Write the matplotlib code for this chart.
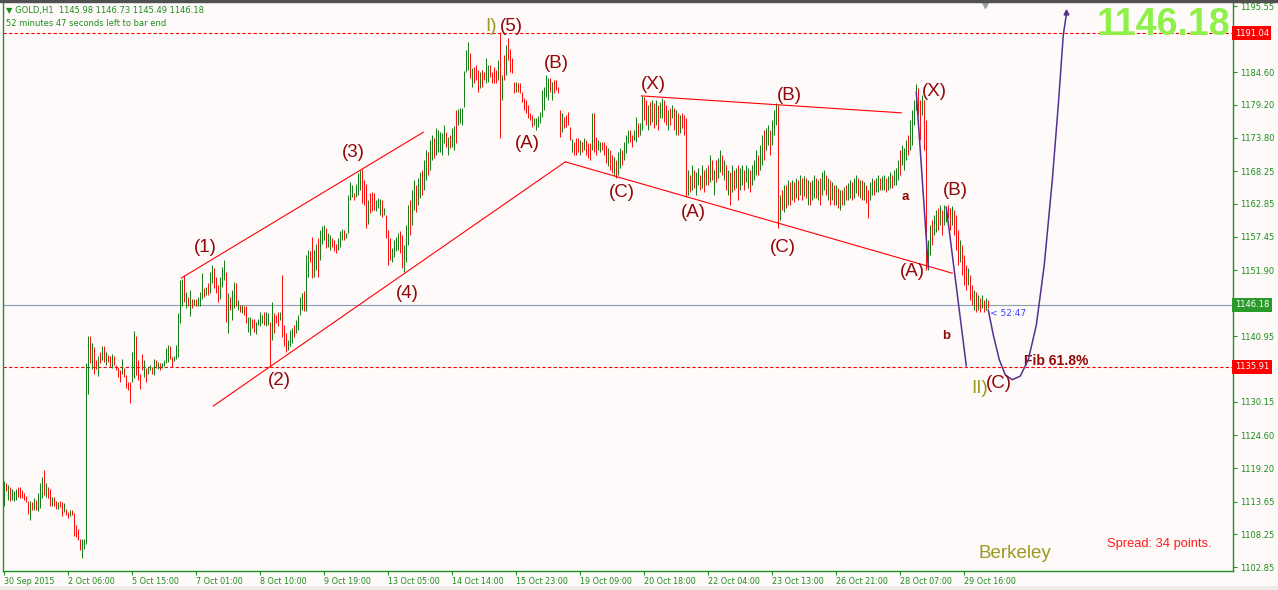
"""
GOLD H1 - Elliott wave count drawn over an MT4 style bar chart.
"""

import matplotlib
matplotlib.use("Agg")
import matplotlib.pyplot as plt
from matplotlib import transforms

# Hourly bars (bar index 0 = 30 Sep 2015).
HIGHS = [
    1117.0, 1116.7, 1116.4, 1116.1, 1115.7, 1115.4, 1115.8, 1116.0, 1116.1, 1115.6,
    1115.0, 1114.6, 1113.8, 1113.7, 1113.6, 1114.2, 1113.9, 1115.0, 1116.7, 1117.8,
    1118.9, 1116.8, 1116.0, 1115.7, 1114.5, 1114.5, 1113.8, 1113.6, 1113.7, 1113.6,
    1113.4, 1112.5, 1112.0, 1112.2, 1112.2, 1111.7, 1109.8, 1109.1, 1107.5, 1107.5,
    1107.5, 1136.6, 1141.0, 1141.0, 1139.8, 1139.2, 1137.0, 1137.8, 1138.4,
    1139.3, 1139.4, 1138.4, 1137.9, 1137.7, 1138.1, 1137.7, 1136.2, 1135.9, 1135.4,
    1137.3, 1135.7, 1134.6, 1133.5, 1133.5, 1138.4, 1141.8, 1141.0, 1137.0, 1134.8,
    1138.1, 1137.0, 1135.7, 1135.9, 1136.2, 1135.9, 1137.3, 1137.0, 1136.8, 1136.5,
    1136.6, 1137.0, 1139.1, 1139.5, 1139.3, 1137.6, 1137.7, 1139.5, 1144.8, 1150.3,
    1150.5, 1151.1, 1148.3, 1147.5, 1148.6, 1147.1, 1147.2, 1147.1, 1147.5, 1148.3,
    1151.4, 1148.9, 1149.2, 1149.7, 1151.6, 1152.7, 1152.2, 1150.8, 1149.4, 1150.8,
    1152.5, 1153.5, 1151.6, 1148.1, 1147.5, 1148.6, 1150.0, 1149.7, 1147.0, 1146.1,
    1146.1, 1145.9, 1145.9, 1144.2, 1144.1, 1143.9, 1143.9, 1143.4, 1143.9, 1145.0,
    1144.5, 1145.0, 1145.0, 1144.9, 1143.4, 1146.7, 1144.8, 1144.5, 1145.0, 1145.0,
    1151.1, 1142.8, 1141.5, 1140.4, 1142.0, 1142.3, 1142.8, 1143.7, 1144.5, 1147.5,
    1148.1, 1148.4, 1154.4, 1155.2, 1155.0, 1157.4, 1155.2, 1156.3, 1157.2, 1158.5,
    1159.2, 1159.4, 1158.8, 1158.0, 1157.7, 1157.2, 1156.9, 1156.3, 1157.2, 1158.3,
    1158.7, 1158.5, 1158.0, 1164.3, 1166.5, 1166.0, 1164.6, 1166.2, 1167.9, 1168.5,
    1168.7, 1166.8, 1166.2, 1163.5, 1164.6, 1164.9, 1164.6, 1163.5, 1163.8, 1163.6,
    1163.5, 1162.1, 1161.0, 1158.5, 1157.2, 1155.5, 1156.9, 1157.4, 1158.0, 1158.3,
    1157.7, 1156.1, 1159.4, 1162.7, 1163.5, 1165.1, 1166.8, 1166.0, 1167.1, 1168.1,
    1168.5, 1170.1, 1171.8, 1171.4, 1173.4, 1174.2, 1173.7, 1175.4, 1175.1, 1174.7,
    1174.6, 1175.9, 1174.7, 1173.9, 1174.2, 1175.4, 1175.7, 1178.4, 1178.5, 1178.7,
    1178.7, 1184.8, 1188.3, 1189.6, 1187.8, 1185.3, 1185.5, 1185.8, 1185.0, 1184.6,
    1185.0, 1184.6, 1187.0, 1185.8, 1185.8, 1184.6, 1185.5, 1185.0, 1186.6, 1191.3,
    1184.2, 1187.5, 1189.1, 1190.3, 1188.4, 1187.0, 1183.0, 1183.0, 1182.8, 1182.8,
    1181.3, 1180.4, 1180.0, 1179.2, 1177.9, 1177.5, 1177.0, 1177.0, 1177.4, 1178.0,
    1181.7, 1182.2, 1184.2, 1183.7, 1183.7, 1183.0, 1183.3, 1183.3, 1182.2, 1178.4,
    1177.9, 1177.2, 1177.5, 1178.0, 1175.6, 1173.6, 1173.1, 1173.7, 1173.7, 1173.4,
    1173.1, 1173.7, 1173.4, 1172.9, 1172.9, 1177.9, 1177.9, 1173.9, 1173.4, 1173.1,
    1173.1, 1173.1, 1172.6, 1172.1, 1171.8, 1170.9, 1170.6, 1170.1, 1171.4, 1172.1,
    1171.8, 1173.1, 1174.2, 1175.1, 1175.1, 1174.2, 1175.1, 1177.2, 1176.2, 1176.2,
    1180.7, 1180.5, 1180.0, 1179.2, 1179.7, 1180.0, 1179.5, 1180.0, 1179.2, 1179.7,
    1180.4, 1180.0, 1179.2, 1178.4, 1178.7, 1179.2, 1178.7, 1178.4, 1177.9, 1177.5,
    1177.9, 1177.5, 1177.0, 1168.5, 1167.6, 1169.3, 1168.5, 1168.1, 1168.8, 1167.6,
    1169.3, 1168.5, 1168.8, 1169.3, 1170.9, 1170.1, 1168.5, 1170.1, 1170.4, 1171.8,
    1170.9, 1170.1, 1169.3, 1168.5, 1168.1, 1169.3, 1168.5, 1168.8, 1169.3, 1168.8,
    1169.3, 1168.5, 1169.3, 1168.8, 1168.5, 1169.3, 1170.1, 1171.8, 1170.9, 1172.6,
    1174.2, 1175.1, 1175.4, 1175.9, 1175.1, 1176.7, 1178.4, 1179.5, 1179.2, 1164.3,
    1165.1, 1166.0, 1166.0, 1166.8, 1166.5, 1166.8, 1166.5, 1167.1, 1166.8, 1167.6,
    1167.1, 1167.5, 1167.1, 1166.8, 1166.5, 1166.8, 1167.6, 1167.1, 1166.8, 1167.1,
    1168.1, 1168.5, 1167.6, 1167.1, 1166.8, 1166.5, 1166.0, 1166.0, 1165.5, 1165.1,
    1165.1, 1165.6, 1166.0, 1166.3, 1166.8, 1166.5, 1167.1, 1167.6, 1167.1, 1166.8,
    1166.8, 1166.5, 1166.0, 1165.1, 1166.5, 1167.1, 1166.8, 1167.1, 1167.6, 1167.1,
    1167.5, 1167.6, 1167.1, 1167.5, 1168.1, 1167.6, 1168.5, 1168.8, 1170.1, 1171.8,
    1172.6, 1172.1, 1173.4, 1174.2, 1176.7, 1178.4, 1180.0, 1182.7, 1182.0, 1180.0,
    1180.8, 1180.0, 1176.7, 1156.9, 1159.4, 1160.2, 1161.0, 1161.8, 1162.2, 1162.7,
    1161.8, 1162.7, 1162.3, 1162.7, 1162.2, 1162.5, 1161.8, 1161.0, 1158.5, 1156.9,
    1156.1, 1154.4, 1152.8, 1152.3, 1151.1, 1149.5, 1148.6, 1148.3, 1147.8, 1147.3,
    1147.8, 1147.0, 1147.3, 1147.0,
]
LOWS = [
    1113.0, 1115.4, 1113.9, 1113.8, 1114.0, 1113.7, 1113.9, 1114.4, 1114.2, 1114.2,
    1113.9, 1113.6, 1111.6, 1110.6, 1112.2, 1112.2, 1112.2, 1112.1, 1112.6, 1114.2,
    1114.7, 1114.5, 1114.2, 1112.9, 1112.9, 1112.9, 1112.5, 1112.5, 1112.8, 1111.3,
    1111.9, 1111.5, 1110.9, 1111.3, 1111.4, 1107.9, 1107.8, 1107.3, 1105.6, 1104.4,
    1105.9, 1106.7, 1131.5, 1136.5, 1135.5, 1134.7, 1135.5, 1134.4, 1136.5,
    1137.0, 1136.8, 1136.2, 1136.8, 1135.9, 1135.7, 1136.2, 1135.4, 1134.3, 1133.4,
    1134.8, 1134.3, 1132.5, 1132.1, 1129.9, 1133.5, 1134.0, 1134.6, 1133.7, 1132.2,
    1135.4, 1134.3, 1133.5, 1134.8, 1135.4, 1134.8, 1134.6, 1135.7, 1135.5, 1135.4,
    1135.7, 1136.1, 1136.5, 1136.8, 1137.3, 1135.9, 1136.9, 1137.3, 1137.5, 1143.2,
    1145.9, 1146.7, 1145.6, 1145.9, 1144.4, 1145.6, 1146.1, 1145.9, 1145.9, 1145.9,
    1147.2, 1147.5, 1147.8, 1147.8, 1148.1, 1149.7, 1148.9, 1148.1, 1146.7, 1147.2,
    1149.2, 1150.3, 1143.4, 1141.6, 1145.3, 1143.7, 1145.6, 1145.9, 1145.3, 1145.0,
    1144.8, 1144.5, 1143.1, 1141.7, 1141.2, 1142.3, 1141.7, 1141.3, 1142.8, 1142.6,
    1143.1, 1142.8, 1142.6, 1142.8, 1135.9, 1140.4, 1141.5, 1143.1, 1142.6, 1143.7,
    1140.9, 1139.3, 1138.4, 1138.7, 1139.3, 1139.8, 1140.9, 1141.5, 1142.0, 1144.5,
    1145.3, 1145.2, 1145.2, 1150.8, 1153.3, 1150.6, 1150.8, 1151.9, 1150.8, 1153.6,
    1156.3, 1156.9, 1155.5, 1155.8, 1155.2, 1155.8, 1155.0, 1154.7, 1155.2, 1155.8,
    1156.9, 1156.9, 1157.2, 1158.0, 1163.5, 1164.0, 1163.5, 1164.0, 1164.3, 1165.1,
    1163.0, 1162.7, 1158.8, 1159.6, 1161.3, 1161.6, 1161.8, 1161.6, 1162.1, 1161.0,
    1160.7, 1161.0, 1157.2, 1152.8, 1153.6, 1153.3, 1154.1, 1155.0, 1155.2, 1154.7,
    1152.3, 1151.6, 1153.3, 1156.1, 1157.7, 1159.4, 1161.8, 1161.5, 1162.7, 1163.8,
    1164.3, 1165.1, 1166.8, 1167.6, 1168.5, 1170.1, 1170.4, 1170.9, 1171.4, 1171.4,
    1170.9, 1172.9, 1172.3, 1170.9, 1172.1, 1172.3, 1171.8, 1172.9, 1175.9, 1176.2,
    1175.9, 1178.9, 1184.6, 1185.0, 1183.7, 1182.2, 1182.8, 1183.3, 1181.3, 1182.0,
    1182.2, 1183.3, 1182.8, 1183.0, 1183.8, 1182.8, 1182.8, 1182.8, 1183.3, 1173.7,
    1180.0, 1183.3, 1184.2, 1186.6, 1184.6, 1184.5, 1181.2, 1181.3, 1181.3, 1181.2,
    1179.7, 1178.4, 1177.9, 1177.0, 1176.7, 1175.6, 1175.9, 1175.1, 1175.6, 1176.2,
    1177.2, 1178.4, 1180.5, 1180.0, 1181.3, 1180.0, 1181.2, 1181.7, 1181.2, 1173.9,
    1174.7, 1175.4, 1175.6, 1175.9, 1173.4, 1171.4, 1170.9, 1170.9, 1171.4, 1170.9,
    1171.4, 1171.8, 1170.9, 1170.4, 1170.1, 1171.8, 1171.4, 1170.9, 1171.8, 1171.4,
    1171.8, 1170.9, 1169.6, 1169.1, 1168.5, 1168.0, 1167.5, 1167.1, 1167.6, 1168.8,
    1169.3, 1170.1, 1171.3, 1172.9, 1173.1, 1172.3, 1173.4, 1173.1, 1173.9, 1174.2,
    1175.1, 1176.7, 1175.9, 1175.1, 1175.9, 1176.4, 1175.4, 1175.9, 1175.1, 1177.0,
    1177.0, 1176.4, 1175.9, 1175.1, 1175.9, 1177.0, 1175.1, 1174.2, 1174.2, 1174.6,
    1175.4, 1174.2, 1164.0, 1164.3, 1164.8, 1165.1, 1165.5, 1164.3, 1166.0, 1165.1,
    1165.5, 1164.8, 1166.0, 1166.0, 1166.5, 1166.8, 1164.3, 1166.5, 1167.1, 1168.1,
    1167.6, 1166.8, 1165.1, 1164.3, 1162.7, 1164.8, 1165.1, 1165.5, 1163.5, 1165.1,
    1166.0, 1165.1, 1166.5, 1165.5, 1164.8, 1166.0, 1166.8, 1167.6, 1167.6, 1168.5,
    1169.3, 1170.1, 1171.8, 1172.6, 1170.9, 1172.6, 1174.2, 1175.9, 1158.9, 1160.2,
    1161.8, 1161.5, 1162.2, 1162.7, 1162.7, 1163.5, 1163.2, 1163.8, 1163.5, 1164.3,
    1163.5, 1164.2, 1163.8, 1162.7, 1162.7, 1163.5, 1163.8, 1163.8, 1163.5, 1162.7,
    1164.3, 1165.1, 1164.3, 1163.5, 1162.7, 1163.5, 1162.7, 1162.7, 1162.2, 1161.8,
    1162.7, 1162.7, 1163.5, 1163.5, 1163.8, 1163.5, 1163.8, 1164.7, 1164.2, 1163.8,
    1163.5, 1163.5, 1163.0, 1160.5, 1163.5, 1164.3, 1164.3, 1164.8, 1164.8, 1165.1,
    1165.1, 1165.1, 1164.8, 1165.1, 1165.5, 1165.5, 1166.0, 1166.0, 1166.8, 1167.6,
    1169.3, 1168.5, 1170.1, 1170.9, 1171.8, 1172.6, 1175.9, 1178.4, 1177.5, 1173.4,
    1177.5, 1171.8, 1151.9, 1151.9, 1154.4, 1156.1, 1157.7, 1158.2, 1158.5, 1159.4,
    1157.7, 1159.4, 1159.9, 1160.5, 1158.5, 1159.4, 1157.7, 1155.2, 1152.8, 1153.3,
    1151.1, 1149.5, 1148.6, 1149.5, 1147.0, 1146.1, 1145.3, 1145.0, 1145.3, 1145.0,
    1145.6, 1145.0, 1145.3, 1145.7,
]
# g = bullish bar (green), r = bearish bar (red)
DIRS = (
    "grgrgggrrr" "rrrgrgrggg" "rgrrgrrgrr" "grrgrrrrrg" "gggrgrrgr"
    "grgrrgrrrr" "grrrrggrrr" "rgrggrgrgr" "ggggrrgggg" "grgrgrgrgg"
    "grgrggrrrg" "ggrgrggrgr" "grrggrrggg" "grggrgrrrg" "rrrgggrggg"
    "grggrrggrg" "ggrggrrrgg" "grggggrggg" "rrrgrrrggg" "rgrrrggggr"
    "rgggrggrgg" "rggrggrggg"
    "ggrgrggrgg" "ggggrgrrrg" "rrggrrrrgr" "grgrrrrgrr" "rrrrrrgggg"
    "ggggrgrrrr" "grrrrgrrrg" "rgrrrgrrgg" "rrrgrrgrgg" "rgggrrggrg"
    "grrgrgrgrg" "grrgrgrgrg" "rrrgrgrggr" "grgrgrgrgg" "rgrgrgrgrg"
    "grggrgggrg" "grggrgggrg" "rgrgrgrgrg" "rgrgrggrgr" "ggrgrgrgrg"
    "rgrggrggrg" "rgrrggrggr" "ggrggrgggr" "gggrggggrr" "grrggrggrg"
    "rggrrgrrrg" "rrrgrrgrgr" "grgr"
)

X_LABELS = ["30 Sep 2015", "2 Oct 06:00", "5 Oct 15:00", "7 Oct 01:00",
            "8 Oct 10:00", "9 Oct 19:00", "13 Oct 05:00", "14 Oct 14:00",
            "15 Oct 23:00", "19 Oct 09:00", "20 Oct 18:00", "22 Oct 04:00",
            "23 Oct 13:00", "26 Oct 21:00", "28 Oct 07:00", "29 Oct 16:00"]
X_LABEL_BARS = [0, 32, 64, 96, 128, 160, 192, 224, 256, 288, 320, 352,
                384, 416, 448, 480]
# scale ticks; the ones sitting under a price tag get no text
Y_TICKS = [1195.55, 1190.15, 1184.60, 1179.20, 1173.80, 1168.25, 1162.85,
           1157.45, 1151.90, 1146.50, 1140.95, 1135.55, 1130.15, 1124.60,
           1119.20, 1113.65, 1108.25, 1102.85]
HIDDEN_TICKS = [1190.15, 1146.50, 1135.55]

LAST_PRICE = 1146.18
TOP_LEVEL = 1191.04
FIB_LEVEL = 1135.91

# wave labels: (text, bar index, price)
WAVE_LABELS = [
    ("(1)", 100.9, 1155.6), ("(2)", 137.9, 1133.6), ("(3)", 174.9, 1171.3),
    ("(4)", 201.9, 1148.0), ("(5)", 253.9, 1192.1), ("(A)", 261.9, 1172.9),
    ("(B)", 276.4, 1186.0), ("(C)", 309.4, 1164.8), ("(X)", 324.9, 1182.5),
    ("(A)", 344.9, 1161.5), ("(B)", 392.9, 1180.8), ("(C)", 389.9, 1155.6),
    ("(X)", 465.4, 1181.5), ("(A)", 454.4, 1151.6), ("(B)", 475.9, 1165.1),
    ("(C)", 497.9, 1133.1),
]
DEGREE_LABELS = [("I)", 243.9, 1192.1), ("II)", 487.9, 1132.4)]
SMALL_LABELS = [("a", 450.9, 1164.0), ("b", 471.4, 1141.0)]

# trend lines: ((bar, price), (bar, price))
RED_LINES = [
    ((88.9, 1150.6), (209.9, 1174.7)),
    ((104.9, 1129.45), (280.9, 1169.8)),
    ((280.9, 1169.8), (474.4, 1151.4)),
    ((318.9, 1180.7), (448.9, 1177.9)),
]
PURPLE_LINES = [
    ((456.4, 1181.3), (462.4, 1152.3)),
    ((471.4, 1162.3), (481.4, 1136.1)),
]
CURVE_BARS = [492.4, 494.9, 497.9, 500.9, 504.4, 508.4, 512.4, 516.4,
              520.4, 524.4, 527.4, 529.9, 531.4]
CURVE_PRICES = [1145.3, 1141.2, 1137.1, 1134.6, 1133.8, 1134.4, 1137.1,
                1142.8, 1152.8, 1166.8, 1179.2, 1190.8, 1194.1]

GREEN = "#16801a"
RED = "#ff1010"
AXIS_GREEN = "#22902a"
WAVE_RED = "#900808"
OLIVE = "#9a9a1e"
PURPLE = "#55308f"
BG = "#fffafa"

W, H = 1278, 590
AX_L, AX_R, AX_T, AX_B = 2.5, 1233, 3, 571


def setup_axes(fig):
    ax = fig.add_axes([AX_L / W, (H - AX_B) / H,
                       (AX_R - AX_L) / W, (AX_B - AX_T) / H])
    ax.set_facecolor(BG)
    # 2 px per bar, bar centres on pixel centres
    ax.set_xlim(-0.5, (AX_R - AX_L) / 2 - 0.5)
    ax.set_ylim(1102.19, 1196.05)
    for side in ("left", "bottom", "right"):
        ax.spines[side].set_color(AXIS_GREEN)
        ax.spines[side].set_linewidth(1.0)
    ax.spines["top"].set_visible(False)

    ax.yaxis.tick_right()
    ax.set_yticks(Y_TICKS)
    ax.set_yticklabels(["" if v in HIDDEN_TICKS else f"{v:.2f}"
                        for v in Y_TICKS])
    ax.tick_params(axis="y", direction="out", length=3, width=0.8,
                   color=AXIS_GREEN, labelcolor="#1e8c1e",
                   labelsize=6, pad=2)
    ax.set_xticks(X_LABEL_BARS)
    ax.set_xticklabels(X_LABELS)
    for lab in ax.get_xticklabels():
        lab.set_horizontalalignment("left")
    ax.tick_params(axis="x", direction="out", length=3, width=0.8,
                   color=AXIS_GREEN, labelcolor="#1e8c1e",
                   labelsize=5.8, pad=1.5)
    return ax


def draw_bars(ax):
    xs = list(range(len(HIGHS)))
    colors = [GREEN if d == "g" else RED for d in DIRS]
    ax.vlines(xs, LOWS, HIGHS, colors=colors, linewidth=0.72, zorder=3)


def draw_levels(ax):
    ax.axhline(TOP_LEVEL, color="#ff0000", lw=0.8, ls=(0, (3, 2)), zorder=2)
    ax.axhline(FIB_LEVEL, color="#ff0000", lw=0.8, ls=(0, (3, 2)), zorder=2)
    ax.axhline(LAST_PRICE, color="#8a9db5", lw=0.8, zorder=2)

    for (x0, y0), (x1, y1) in RED_LINES:
        ax.plot([x0, x1], [y0, y1], color="#ff0000", lw=0.8, zorder=4)
    for (x0, y0), (x1, y1) in PURPLE_LINES:
        ax.plot([x0, x1], [y0, y1], color=PURPLE, lw=1.1, zorder=4)
    ax.plot(CURVE_BARS, CURVE_PRICES, color=PURPLE, lw=1.1, zorder=4)
    ax.plot([CURVE_BARS[-1]], [CURVE_PRICES[-1] + 0.5], marker="^",
            color=PURPLE, ms=3.5, zorder=4)

    # price tags on the scale
    trans = transforms.blended_transform_factory(ax.transAxes, ax.transData)
    for price, fc in ((TOP_LEVEL, "#ff0000"), (LAST_PRICE, "#2a9a2a"),
                      (FIB_LEVEL, "#ff0000")):
        ax.text(1.0015, price, f"{price:.2f}", transform=trans,
                ha="left", va="center", color="white", fontsize=6,
                bbox=dict(boxstyle="square,pad=0.3", fc=fc, ec="none"),
                clip_on=False, zorder=6)


def draw_labels(ax):
    for txt, x, y in WAVE_LABELS:
        ax.text(x, y, txt, color=WAVE_RED, fontsize=13.5,
                family="Liberation Sans", ha="center", va="center", zorder=5)
    for txt, x, y in DEGREE_LABELS:
        ax.text(x, y, txt, color=OLIVE, fontsize=13.5,
                family="Liberation Sans", ha="center", va="center", zorder=5)
    for txt, x, y in SMALL_LABELS:
        ax.text(x, y, txt, color=WAVE_RED, fontsize=9.5, weight="bold",
                family="Liberation Sans", ha="center", va="center", zorder=5)
    ax.text(510.4, 1136.9, "Fib 61.8%", color=WAVE_RED, fontsize=10,
            weight="bold", family="Liberation Sans", ha="left", va="center")
    ax.text(493.4, 1144.8, "< 52:47", color="#3344ff", fontsize=6.5,
            ha="left", va="center")

    fx = lambda px: (px - AX_L) / (AX_R - AX_L)
    fy = lambda py: (AX_B - py) / (AX_B - AX_T)
    ax.text(fx(6), fy(11), "\u25bc GOLD,H1  1145.98 1146.73 1145.49 1146.18",
            transform=ax.transAxes, color="#1e8c1e", fontsize=6,
            ha="left", va="center")
    ax.text(fx(6), fy(24), "52 minutes 47 seconds left to bar end",
            transform=ax.transAxes, color="#1e8c1e", fontsize=6,
            ha="left", va="center")
    ax.text(fx(1230), fy(25), "1146.18", transform=ax.transAxes,
            color="#8ff04a", fontsize=27, weight="bold",
            family="Liberation Sans", ha="right", va="center")
    ax.text(fx(1015), fy(553), "Berkeley", transform=ax.transAxes,
            color=OLIVE, fontsize=13.5, family="Liberation Sans",
            ha="center", va="center")
    ax.text(fx(1107), fy(544), "Spread: 34 points.", transform=ax.transAxes,
            color="#ff1c1c", fontsize=9.3, family="Liberation Sans",
            ha="left", va="center")
    # chart shift marker
    ax.plot([fx(985)], [fy(5)], marker="v", color="#a0a0a0", ms=5,
            transform=ax.transAxes, clip_on=False)


def main():
    fig = plt.figure(figsize=(W / 100, H / 100), dpi=100, facecolor=BG)
    # window frame strips
    fig.patches.append(plt.Rectangle((0, 1 - 2 / H), 1, 2 / H,
                                     transform=fig.transFigure,
                                     color="#505050", zorder=0))
    fig.patches.append(plt.Rectangle((0, 0), 1, 4 / H,
                                     transform=fig.transFigure,
                                     color="#ececec", zorder=0))
    ax = setup_axes(fig)
    draw_bars(ax)
    draw_levels(ax)
    draw_labels(ax)
    fig.savefig("out.png", dpi=100, facecolor=BG)


if __name__ == "__main__":
    main()
